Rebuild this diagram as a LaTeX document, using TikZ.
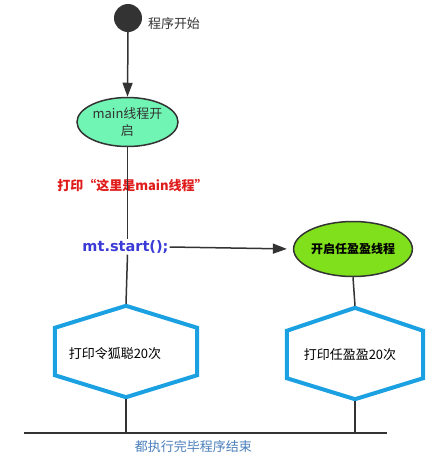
\documentclass[tikz,border=0pt]{standalone}
\usepackage{fontspec}
\setmainfont{Liberation Sans}
\newfontfamily\cjk{Noto Sans CJK SC}
\newfontfamily\dvb{DejaVu Sans}[BoldFont={DejaVu Sans Bold}]
\usetikzlibrary{shapes.geometric,arrows.meta,calc}
\definecolor{linec}{HTML}{333333}
\definecolor{mainfill}{HTML}{70F5B4}
\definecolor{threadfill}{HTML}{80E01C}
\definecolor{hexblue}{HTML}{1BA1E2}
\definecolor{redtxt}{HTML}{E01B1B}
\definecolor{bluetxt}{HTML}{3A3AD6}
\definecolor{endtxt}{HTML}{4A7EBB}
\tikzset{
  conn/.style={draw=linec, line width=1.5pt},
  arr/.style={conn, -{Triangle[width=10pt,length=14pt]}},
  txt/.style={font=\cjk\fontsize{13}{15}\selectfont, inner sep=1pt},
  ell/.style={ellipse, draw=linec, line width=1.5pt, inner sep=0pt},
  hexbox/.style={rectangle, minimum height=91pt, inner sep=0pt},
  hexline/.style={draw=hexblue, line width=4pt, line join=miter}
}
\begin{document}
\begin{tikzpicture}[x=1pt,y=-1pt]
\useasboundingbox (0,0) rectangle (439,467);
% start
\node[circle, fill=linec, minimum size=28pt, inner sep=0pt] (start) at (128,18) {};
\node[txt, text=linec] (startlbl) at (174,24) {程序开始};
% main ellipse
\node[ell, fill=mainfill, minimum width=101pt, minimum height=49pt, align=center,
      font=\cjk\fontsize{13}{17}\selectfont, text=linec] (main) at (127.5,122) {main线程开\\启};
\draw[arr] (start.south) -- (main.north);
% red print text
\node[txt, text=redtxt, font=\cjk\bfseries\fontsize{13}{15}\selectfont] (print) at (132.5,185) {打印“这里是main线程”};
% mt.start
\node[inner sep=1pt, text=bluetxt, font=\dvb\bfseries\fontsize{14.5}{16}\selectfont] (mt) at (125.5,247) {mt.start();};
% thread ellipse
\node[ell, fill=threadfill, minimum width=99pt, minimum height=55pt,
      font=\cjk\bfseries\fontsize{12}{14}\selectfont, text=black] (thread) at (353,249) {开启任盈盈线程};
\draw[arr, shorten >=6pt] (mt.east) -- (thread.west);
% hexagons
\node[hexbox, minimum width=142pt] (h1) at (126,351.5) {};
\node[hexbox, minimum width=136pt] (h2) at (355,353.5) {};
\draw[hexline] (h1.north) -- ($(h1.north east)+(0,22)$) -- ($(h1.south east)+(0,-22)$) -- (h1.south)
  -- ($(h1.south west)+(0,-22)$) -- ($(h1.north west)+(0,22)$) -- cycle;
\draw[hexline] (h2.north) -- ($(h2.north east)+(0,23)$) -- ($(h2.south east)+(0,-21)$) -- (h2.south)
  -- ($(h2.south west)+(0,-21)$) -- ($(h2.north west)+(0,23)$) -- cycle;
\node[txt, text=black] (t1) at (115,354) {打印令狐聪20次};
\node[txt, text=black] (t2) at (350,355) {打印任盈盈20次};
% vertical connectors
\draw[conn] (main.south) -- (main.south |- mt.north);
\draw[conn] (main.south |- mt.south) -- ($(h1.north)+(0,-2)$);
\draw[conn] (thread.south) -- ($(h2.north)+(0,-2)$);
% bottom bar
\coordinate (barL) at (24,433);
\coordinate (barR) at (387,433);
\draw[conn, line width=2pt] (barL) -- (barR);
\draw[conn] ($(h1.south)+(0,2)$) -- (h1.south |- barL);
\draw[conn] ($(h2.south)+(0,2)$) -- (h2.south |- barL);
\node[txt, text=endtxt] (endlbl) at (193.5,447) {都执行完毕程序结束};
\end{tikzpicture}
\end{document}
